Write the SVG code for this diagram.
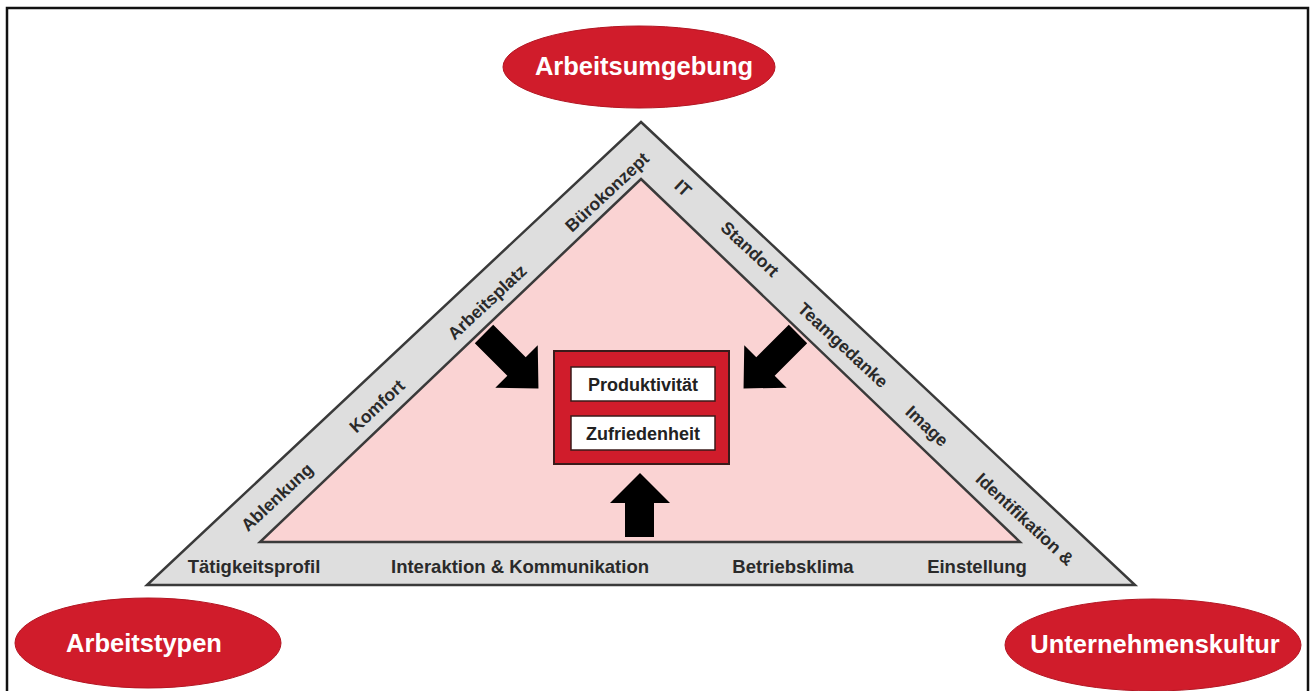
<svg xmlns="http://www.w3.org/2000/svg" width="1311" height="691" viewBox="0 0 1311 691">
<style>
.ell{fill:#d01c2b;stroke:#b31522;stroke-width:1}
.etxt{font-family:"Liberation Sans",Arial,sans-serif;font-weight:bold;font-size:25.5px;fill:#ffffff;text-anchor:middle}
.band{font-family:"Liberation Sans",Arial,sans-serif;font-weight:bold;font-size:17.5px;fill:#2a2a2a;text-anchor:middle}
.hband{font-size:18.5px}
.box{font-family:"Liberation Sans",Arial,sans-serif;font-weight:bold;font-size:18px;fill:#222;text-anchor:middle}
.arrow{fill:#000}
</style>
<defs>
<path id="diag" d="M0,-13 L46,-13 L46,-30 L77,0 L46,30 L46,13 L0,13 Z"/>
</defs>
<rect x="0" y="0" width="1311" height="691" fill="#ffffff"/>
<path d="M7,691 L7,8 L1308,8 L1308,691" fill="none" stroke="#111" stroke-width="2.5"/>

<g id="triangle">
<polygon points="641,122 1135,585 147,585" fill="#dedede" stroke="#3a3a3a" stroke-width="2.5"/>
<polygon points="641,179 1020,542 260,542" fill="#fad3d3" stroke="#3a3a3a" stroke-width="2.5"/>
</g>

<g id="left-labels">
<text class="band" transform="translate(277,497) rotate(-43)" dy="0.35em">Ablenkung</text>
<text class="band" transform="translate(377,406) rotate(-43)" dy="0.35em">Komfort</text>
<text class="band" transform="translate(487,302) rotate(-43)" dy="0.35em">Arbeitsplatz</text>
<text class="band" transform="translate(607,192) rotate(-43)" dy="0.35em">Bürokonzept</text>
</g>
<g id="right-labels">
<text class="band" transform="translate(683,188) rotate(43)" dy="0.35em">IT</text>
<text class="band" transform="translate(750,249) rotate(43)" dy="0.35em">Standort</text>
<text class="band" transform="translate(843,345) rotate(43)" dy="0.35em">Teamgedanke</text>
<text class="band" transform="translate(927,426) rotate(43)" dy="0.35em">Image</text>
<text class="band" transform="translate(1025,519) rotate(43)" dy="0.35em">Identifikation &amp;</text>
</g>
<g id="bottom-labels">
<text class="band hband" x="254" y="573">Tätigkeitsprofil</text>
<text class="band hband" x="520" y="573">Interaktion &amp; Kommunikation</text>
<text class="band hband" x="793" y="573">Betriebsklima</text>
<text class="band hband" x="977" y="573">Einstellung</text>
</g>

<g id="connectors">
<use href="#diag" class="arrow" transform="translate(484,334) rotate(45)"/>
<use href="#diag" class="arrow" transform="translate(798,334) rotate(135)"/>
<polygon class="arrow" points="625,537 625,503 610,503 640,473 670,503 654,503 654,537"/>
</g>

<g id="center-box">
<rect x="554" y="351" width="175" height="113" fill="#d01c2b" stroke="#3a1a1a" stroke-width="2"/>
<rect x="571" y="367" width="144" height="34" fill="#ffffff" stroke="#3a1a1a" stroke-width="1.5"/>
<rect x="571" y="416" width="144" height="34" fill="#ffffff" stroke="#3a1a1a" stroke-width="1.5"/>
<text class="box" x="643" y="391">Produktivität</text>
<text class="box" x="643" y="440">Zufriedenheit</text>
</g>

<g id="node-arbeitsumgebung">
<ellipse class="ell" cx="639" cy="67" rx="136" ry="41"/>
<text class="etxt" x="644" y="75">Arbeitsumgebung</text>
</g>
<g id="node-arbeitstypen">
<ellipse class="ell" cx="148" cy="643" rx="133" ry="45"/>
<text class="etxt" x="144" y="652">Arbeitstypen</text>
</g>
<g id="node-unternehmenskultur">
<ellipse class="ell" cx="1153" cy="645" rx="148" ry="46"/>
<text class="etxt" x="1155" y="653">Unternehmenskultur</text>
</g>
</svg>
